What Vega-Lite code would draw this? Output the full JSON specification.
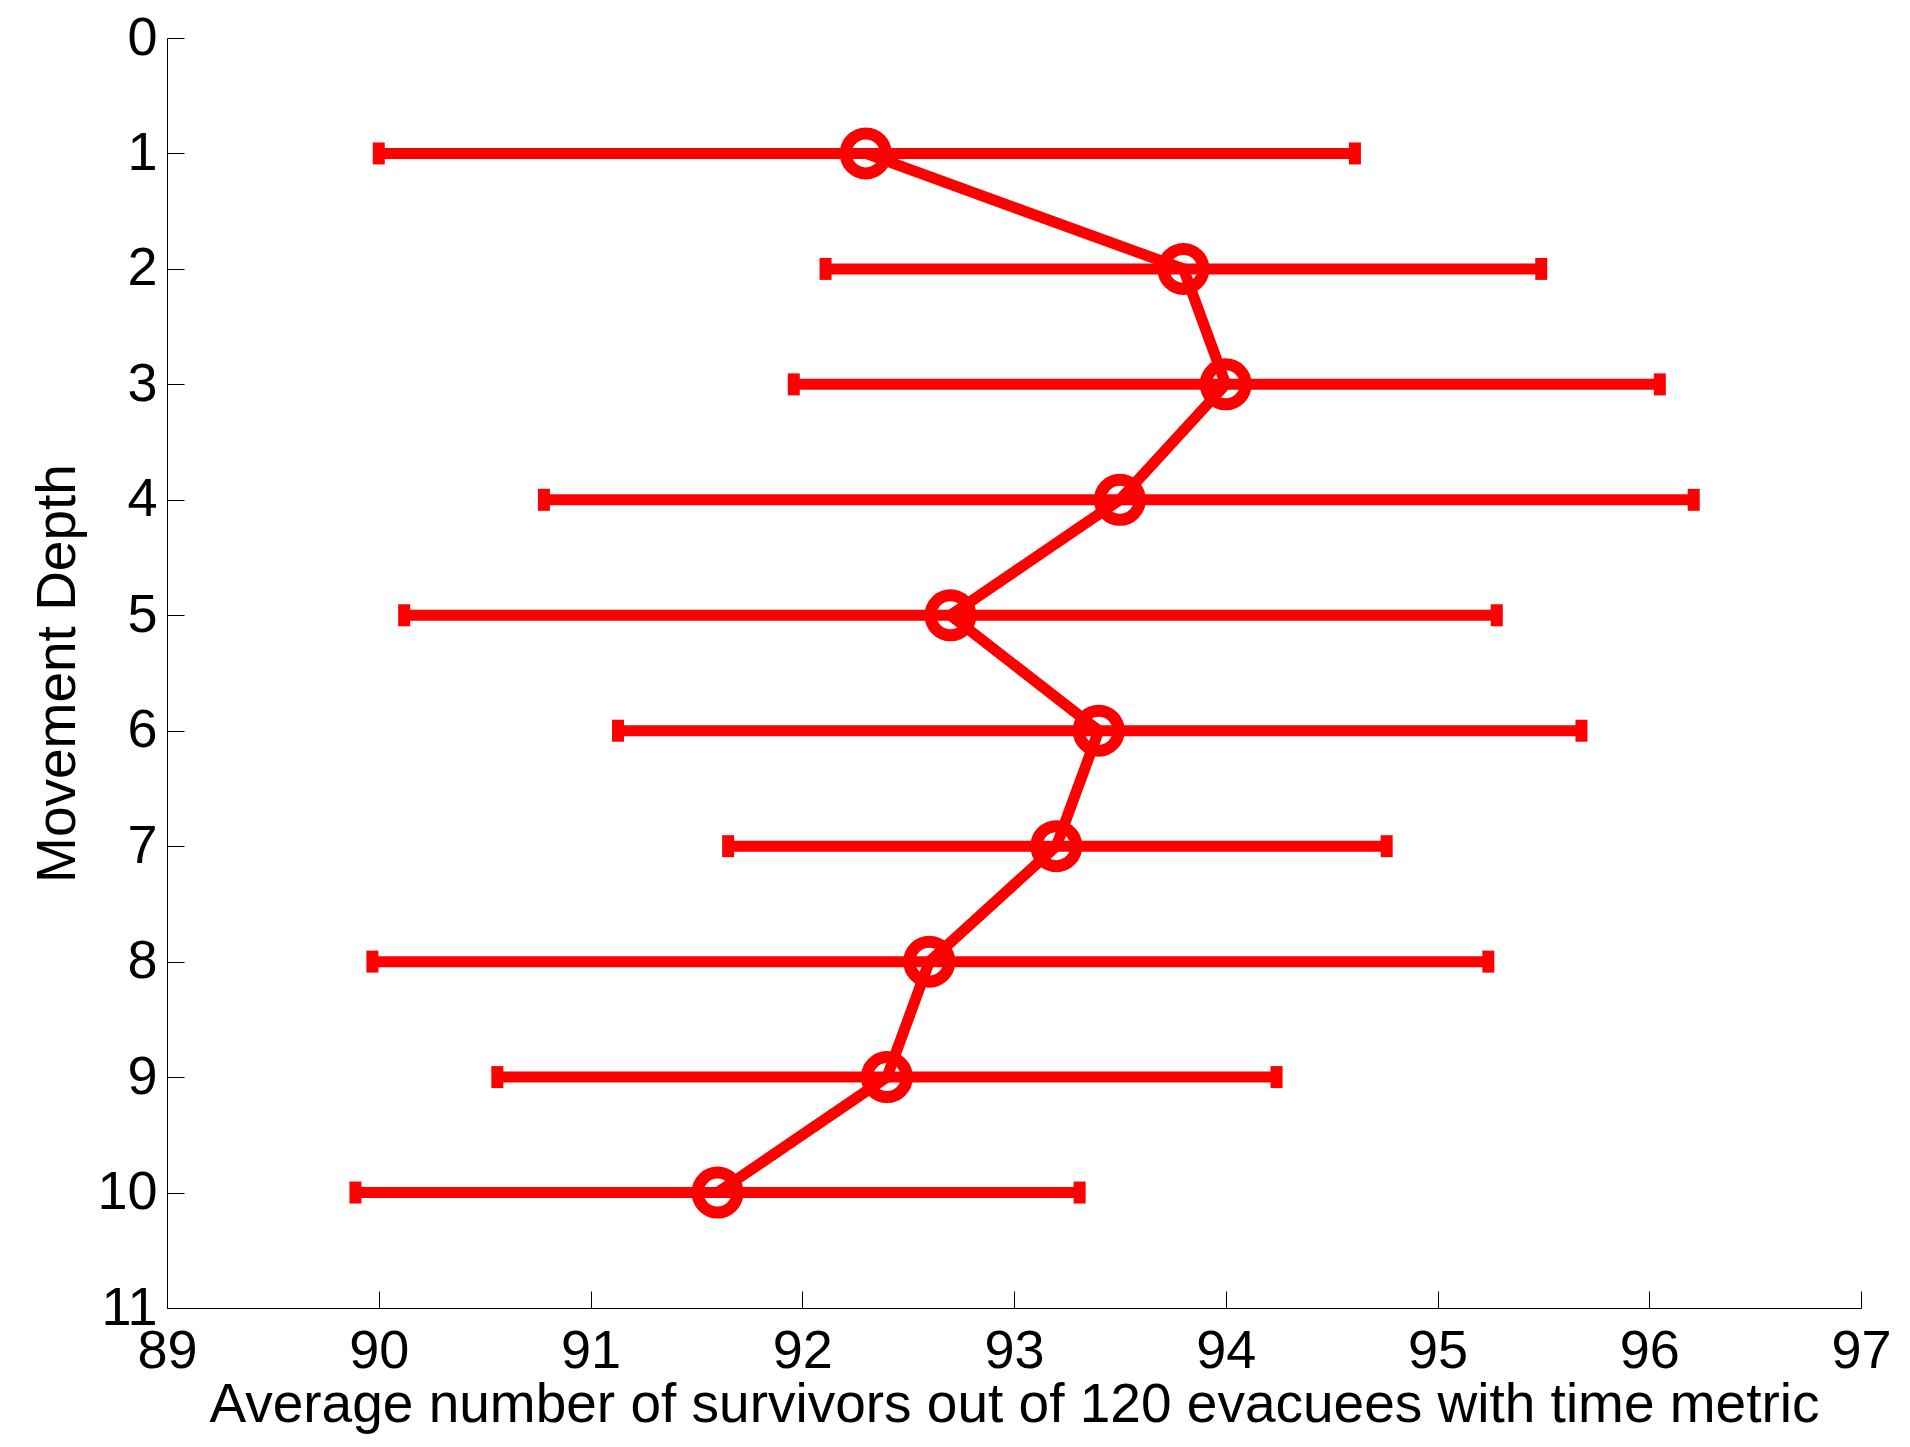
{
  "$schema": "https://vega.github.io/schema/vega-lite/v6.json",
  "width": 1694,
  "height": 1270,
  "autosize": {"type": "none"},
  "padding": {"left": 167, "top": 38, "right": 49, "bottom": 139},
  "background": "white",
  "config": {
    "view": {"stroke": null},
    "font": "Liberation Sans",
    "axis": {
      "grid": false,
      "domainColor": "black",
      "domainWidth": 1,
      "tickColor": "black",
      "tickWidth": 1,
      "tickSize": -17,
      "labelFont": "Liberation Sans",
      "labelFontSize": 54,
      "labelColor": "black",
      "labelOverlap": false,
      "labelFlush": false,
      "titleFont": "Liberation Sans",
      "titleFontSize": 55,
      "titleFontWeight": "normal",
      "titleColor": "black"
    }
  },
  "data": {
    "values": [
      {"depth": 1, "mean": 92.3, "lo": 90.0, "hi": 94.61},
      {"depth": 2, "mean": 93.8, "lo": 92.11, "hi": 95.49},
      {"depth": 3, "mean": 94.0, "lo": 91.96, "hi": 96.05},
      {"depth": 4, "mean": 93.5, "lo": 90.78, "hi": 96.21},
      {"depth": 5, "mean": 92.7, "lo": 90.12, "hi": 95.28},
      {"depth": 6, "mean": 93.4, "lo": 91.13, "hi": 95.68},
      {"depth": 7, "mean": 93.2, "lo": 91.65, "hi": 94.76},
      {"depth": 8, "mean": 92.6, "lo": 89.97, "hi": 95.24},
      {"depth": 9, "mean": 92.4, "lo": 90.56, "hi": 94.24},
      {"depth": 10, "mean": 91.6, "lo": 89.89, "hi": 93.31}
    ]
  },
  "encoding": {
    "y": {
      "field": "depth",
      "type": "quantitative",
      "scale": {"domain": [0, 11], "reverse": true, "nice": false, "zero": false},
      "axis": {
        "title": "Movement Depth",
        "values": [0, 1, 2, 3, 4, 5, 6, 7, 8, 9, 10, 11],
        "format": "d",
        "labelPadding": 27,
        "titleAngle": -90,
        "titleAlign": "center",
        "titleBaseline": "alphabetic",
        "titleX": -93,
        "titleY": 635
      }
    }
  },
  "layer": [
    {
      "mark": {"type": "rule", "color": "#ff0000", "strokeWidth": 11},
      "encoding": {
        "x": {
          "field": "lo",
          "type": "quantitative",
          "scale": {"domain": [89, 97], "nice": false, "zero": false},
          "axis": {
            "title": "Average number of survivors out of 120 evacuees with time metric",
            "values": [89, 90, 91, 92, 93, 94, 95, 96, 97],
            "format": "d",
            "labelPadding": 33,
            "titleBaseline": "alphabetic",
            "titleAnchor": "middle",
            "titleY": 113
          }
        },
        "x2": {"field": "hi"}
      }
    },
    {
      "mark": {"type": "tick", "color": "#ff0000", "orient": "vertical", "size": 22, "thickness": 12, "opacity": 1},
      "encoding": {"x": {"field": "lo", "type": "quantitative"}}
    },
    {
      "mark": {"type": "tick", "color": "#ff0000", "orient": "vertical", "size": 22, "thickness": 12, "opacity": 1},
      "encoding": {"x": {"field": "hi", "type": "quantitative"}}
    },
    {
      "mark": {"type": "line", "color": "#ff0000", "strokeWidth": 11},
      "encoding": {
        "x": {"field": "mean", "type": "quantitative"},
        "order": {"field": "depth"}
      }
    },
    {
      "mark": {"type": "point", "shape": "circle", "filled": false, "color": "#ff0000", "size": 1600, "strokeWidth": 12, "opacity": 1},
      "encoding": {"x": {"field": "mean", "type": "quantitative"}}
    }
  ]
}
